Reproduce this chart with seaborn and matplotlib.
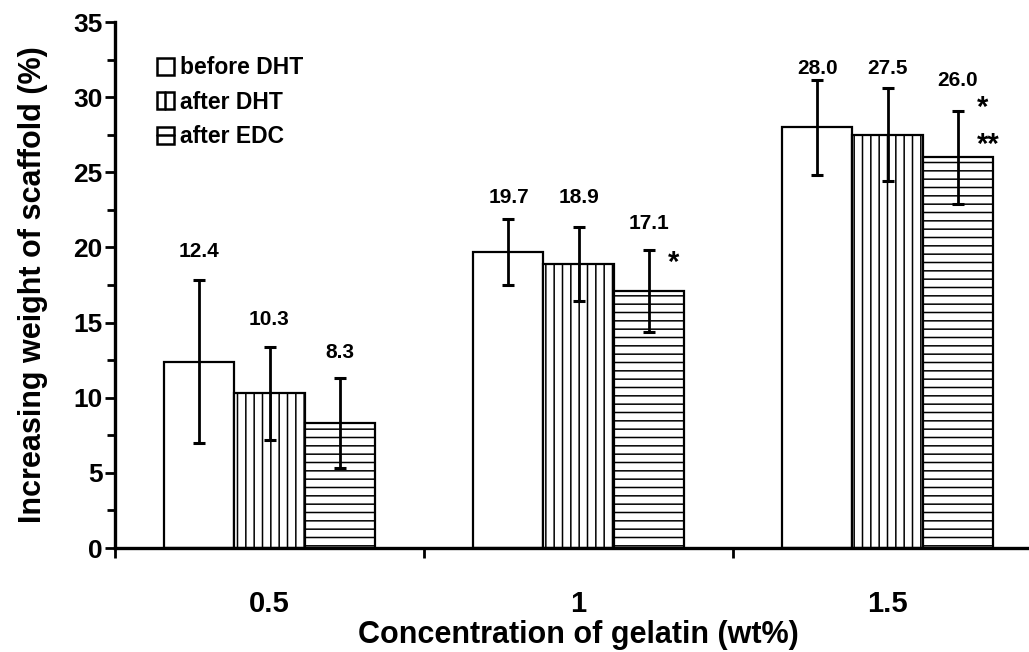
import matplotlib
matplotlib.use("Agg")
import matplotlib.pyplot as plt
import seaborn as sns
import pandas as pd
from matplotlib.patches import Patch, Rectangle
from matplotlib.lines import Line2D
from matplotlib.legend_handler import HandlerBase
from matplotlib.ticker import MultipleLocator, FixedLocator, NullFormatter

# Measured swelling data
concentrations = ["0.5", "1", "1.5"]
treatments = ["before DHT", "after DHT", "after EDC"]
before_dht = [12.4, 19.7, 28.0]
after_dht = [10.3, 18.9, 27.5]
after_edc = [8.3, 17.1, 26.0]
before_dht_err = [5.4, 2.2, 3.15]
after_dht_err = [3.1, 2.45, 3.1]
after_edc_err = [3.0, 2.7, 3.1]

# Heights at which each value label sits (per treatment, per concentration)
label_heights = [
    [19.7, 23.3, 31.9],
    [15.2, 23.3, 31.9],
    [13.0, 21.6, 31.1],
]
# Significance marks: (concentration index, text, height)
sig_marks = [(1, "*", 19.0), (2, "*", 29.3), (2, "**", 26.8)]

values = [before_dht, after_dht, after_edc]
errors = [before_dht_err, after_dht_err, after_edc_err]
hatches = ["", "||", "--"]
legend_lines = [None, "v", "h"]

df = pd.DataFrame({
    "conc": concentrations * 3,
    "treatment": [t for t in treatments for _ in concentrations],
    "value": before_dht + after_dht + after_edc,
})


class BoxHandler(HandlerBase):
    """Small open square with an optional centre line as a hatch hint."""

    def __init__(self, orient):
        super().__init__()
        self.orient = orient

    def create_artists(self, legend, orig_handle, xdescent, ydescent, width,
                       height, fontsize, trans):
        x0, y0 = -xdescent, -ydescent
        arts = [Rectangle((x0, y0), width, height, facecolor="white",
                          edgecolor="black", linewidth=1.8, transform=trans)]
        if self.orient == "v":
            arts.append(Line2D([x0 + width / 2] * 2, [y0, y0 + height],
                               color="black", linewidth=1.8, transform=trans))
        elif self.orient == "h":
            arts.append(Line2D([x0, x0 + width], [y0 + height / 2] * 2,
                               color="black", linewidth=1.8, transform=trans))
        return arts


sns.set_style("white")
plt.rcParams["font.family"] = ["Liberation Sans", "DejaVu Sans"]
plt.rcParams["font.weight"] = "bold"
plt.rcParams["text.color"] = "black"
plt.rcParams["axes.labelcolor"] = "black"
plt.rcParams["xtick.color"] = "black"
plt.rcParams["ytick.color"] = "black"
plt.rcParams["hatch.linewidth"] = 1.1
plt.rcParams["hatch.color"] = "black"

fig = plt.figure(figsize=(10.29, 6.52), dpi=100)
ax = fig.add_axes([115 / 1029, 1 - 548 / 652, 927 / 1029, 526 / 652])

sns.barplot(data=df, x="conc", y="value", hue="treatment", order=concentrations,
            hue_order=treatments, palette=["white"] * 3, edgecolor="black",
            linewidth=1.6, width=0.68, errorbar=None, legend=False, ax=ax,
            saturation=1)

for container, hatch, vals, errs, heights in zip(ax.containers, hatches, values, errors, label_heights):
    xs = []
    for bar in container:
        bar.set_hatch(hatch)
        bar.set_facecolor("white")
        bar.set_edgecolor("black")
        xs.append(bar.get_x() + bar.get_width() / 2)
    ax.errorbar(xs, vals, yerr=errs, fmt="none", ecolor="black", elinewidth=2.0,
                capsize=4.5, capthick=2.2, zorder=5)
    for x, v, h in zip(xs, vals, heights):
        ax.text(x, h, f"{v:.1f}", ha="center", va="center", fontsize=15,
                fontweight="bold", color="black")

edc_bars = ax.containers[2]
for idx, txt, h in sig_marks:
    bar = edc_bars[idx]
    ax.text(bar.get_x() + bar.get_width() - 0.05, h, txt, ha="left", va="center",
            fontsize=21, fontweight="bold", color="black")

ax.set_ylim(0, 35)
ax.set_xlim(-0.5, 2.5)
ax.yaxis.set_major_locator(MultipleLocator(5))
ax.yaxis.set_minor_locator(MultipleLocator(2.5))
ax.xaxis.set_minor_locator(FixedLocator([-0.5, 0.5, 1.5, 2.5]))
ax.xaxis.set_minor_formatter(NullFormatter())
ax.tick_params(axis="x", which="major", length=0, pad=30, labelsize=21)
ax.tick_params(axis="x", which="minor", length=7, width=2, direction="out", bottom=True)
ax.tick_params(axis="y", which="major", length=7, width=2, direction="out", left=True,
               labelsize=19, pad=2)
ax.tick_params(axis="y", which="minor", length=6, width=2, direction="out", left=True)
for lab in ax.get_xticklabels() + ax.get_yticklabels():
    lab.set_fontweight("bold")

for side in ["top", "right"]:
    ax.spines[side].set_visible(False)
for side in ["left", "bottom"]:
    ax.spines[side].set_linewidth(2.4)
    ax.spines[side].set_color("black")

ax.set_xlabel("Concentration of gelatin (wt%)", fontsize=22, fontweight="bold", labelpad=2)
ax.set_ylabel("Increasing weight of scaffold (%)", fontsize=22, fontweight="bold", labelpad=18)

handles = [Patch(facecolor="white", edgecolor="black") for _ in treatments]
leg = ax.legend(handles, treatments, loc="upper left", bbox_to_anchor=(0.045, 0.935),
                frameon=False, prop={"weight": "bold", "size": 16.5}, borderpad=0,
                borderaxespad=0, handlelength=0.75, handleheight=0.75,
                handletextpad=0.25, labelspacing=0.5,
                handler_map={h: BoxHandler(o) for h, o in zip(handles, legend_lines)})
for t in leg.get_texts():
    t.set_color("black")

fig.savefig("out.png", dpi=100)
